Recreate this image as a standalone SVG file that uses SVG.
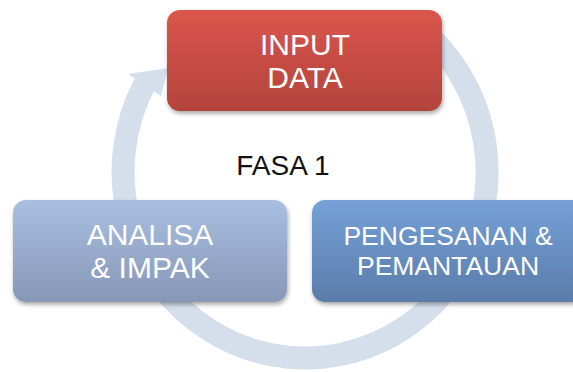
<svg xmlns="http://www.w3.org/2000/svg" width="573" height="372" viewBox="0 0 573 372">
<defs>
<linearGradient id="gRed" x1="0" y1="0" x2="0" y2="1"><stop offset="0" stop-color="#da564c"/><stop offset="1" stop-color="#b3433b"/></linearGradient>
<linearGradient id="gLeft" x1="0" y1="0" x2="0" y2="1"><stop offset="0" stop-color="#a9bfe1"/><stop offset="1" stop-color="#8797b6"/></linearGradient>
<linearGradient id="gRight" x1="0" y1="0" x2="0" y2="1"><stop offset="0" stop-color="#75a1d7"/><stop offset="1" stop-color="#5a7caa"/></linearGradient>
<filter id="sh" x="-10%" y="-10%" width="120%" height="130%"><feDropShadow dx="1" dy="2.5" stdDeviation="2" flood-color="#000" flood-opacity="0.35"/></filter>
</defs>
<style>
.box{filter:url(#sh);}
.lbl{font-family:"Liberation Sans",Arial,sans-serif;fill:#fff;text-anchor:middle;}
.ring{fill:none;stroke:#d5dfec;stroke-width:23;}
</style>
<rect width="573" height="372" fill="#fff"/>
<g id="connectors">
<path class="ring" d="M 417.1 25.4 A 182 186 0 1 1 144.7 84"/>
<polygon points="128,74 168,68 161,96" fill="#d5dfec"/>
</g>
<text x="283" y="175" font-family="Liberation Sans, Arial, sans-serif" font-size="28" fill="#111" text-anchor="middle">FASA 1</text>
<g id="node-input">
<rect class="box" x="167" y="10" width="275" height="101" rx="13" fill="url(#gRed)"/>
<text class="lbl" x="305" y="55" font-size="30">INPUT</text>
<text class="lbl" x="305" y="88" font-size="30">DATA</text>
</g>
<g id="node-analisa">
<rect class="box" x="13" y="200" width="274" height="102" rx="13" fill="url(#gLeft)"/>
<text class="lbl" x="150" y="245" font-size="30">ANALISA</text>
<text class="lbl" x="150" y="278" font-size="30">&amp; IMPAK</text>
</g>
<g id="node-pengesanan">
<rect class="box" x="312" y="200" width="274" height="102" rx="13" fill="url(#gRight)"/>
<text class="lbl" x="448" y="245" font-size="26.5">PENGESANAN &amp;</text>
<text class="lbl" x="448" y="275" font-size="26.5">PEMANTAUAN</text>
</g>
</svg>
